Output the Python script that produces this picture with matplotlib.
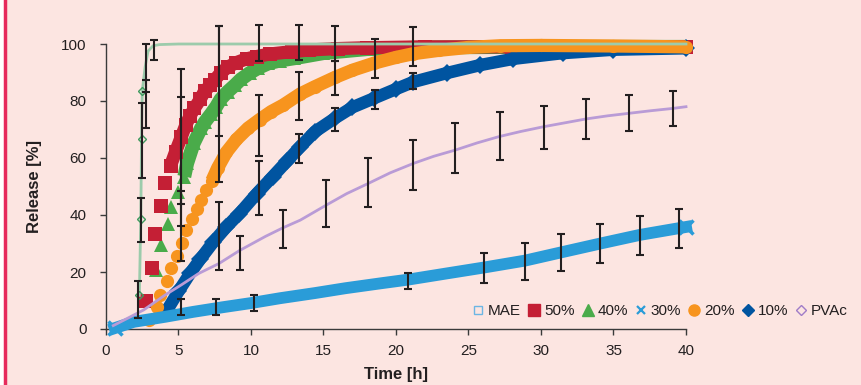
import numpy as np
import matplotlib
matplotlib.use('Agg')
import matplotlib.pyplot as plt
from matplotlib.lines import Line2D
from matplotlib.patches import Rectangle

# release curves: time [h] and release [%]
maeT = [2.3, 2.4, 2.45, 2.5, 2.7, 2.9, 3.25, 3.7, 5, 10, 20, 30, 40]
maeV = [11.8, 38.6, 66.7, 83.5, 92, 97.5, 99.4, 99.8, 100, 100, 100, 100, 100]

t50 = [2.75, 3.2, 3.4, 3.8, 4.1, 4.45, 4.8, 5.2, 5.5, 5.8, 6.1, 6.5, 6.8, 7.2, 7.5, 7.9,
       8.4, 9.0, 9.7, 10.4, 11.3, 12.8, 14.0, 16, 18, 22, 28, 34, 40]
v50 = [9.8, 21.4, 33.3, 43.2, 51.2, 57.3, 62.2, 67.5, 71.5, 74.8, 77.5, 80.6, 83.5, 85.5, 87.4, 89.8,
       91.9, 93.5, 94.8, 95.6, 96.5, 97.3, 97.9, 98.4, 98.7, 99, 99, 99, 99]

t40 = [3.45, 3.8, 4.3, 4.5, 4.95, 5.4, 5.6, 6.05, 6.55, 6.8, 7.25, 7.6, 7.9, 8.4, 8.9, 9.3,
       9.9, 10.5, 11.2, 12.0, 13.0, 15, 18, 22, 30, 40]
v40 = [20.7, 29.5, 37, 42.8, 48.2, 53.5, 58.2, 65.2, 70.4, 72.5, 75.5, 78, 80.6, 83.3, 85.6, 87.6,
       89.8, 91.6, 93.2, 94.2, 95, 96.8, 98.2, 98.8, 99, 99]

t30 = [0.6, 1.9, 4.1, 6, 8, 10, 12, 14.4, 16.5, 18.9, 20.8, 23.5, 26.1, 28.9, 31.4, 34.1, 36.8, 40]
v30 = [0.3, 2.5, 4.3, 6, 7.6, 9.1, 10.8, 12.6, 14.3, 16, 17.3, 19.5, 21.6, 24, 26.9, 30, 33, 35.8]

t20 = [3.0, 3.5, 3.75, 4.2, 4.5, 4.9, 5.25, 5.55, 5.9, 6.25, 6.55, 6.9, 7.3, 7.7, 8.3, 9.0,
       9.8, 10.6, 11.4, 12.2, 13.4, 14.4, 15.8, 17.0, 18.5, 20.0, 21.2, 23.0, 25.0, 27.2, 30, 35, 40]
v20 = [3, 7.7, 11.8, 17, 21.4, 25.6, 30.2, 34.7, 38.6, 42.2, 45.4, 48.8, 52, 56.5, 62, 66.5,
       70.5, 73.5, 76.3, 78.5, 82.5, 85, 88.3, 90.8, 93.3, 95.3, 96.6, 97.8, 98.8, 99.4, 99.5, 99.3, 99]

t10 = [4.2, 5.0, 5.8, 6.5, 7.4, 8.3, 9.2, 10.4, 11.5, 12.5, 13.4, 14.4, 15.8, 17.0, 18.5, 20.0,
       21.2, 23.5, 25.8, 28.1, 31.5, 35.0, 40.0]
v10 = [6.5, 13.2, 19.5, 24.5, 30.5, 35.8, 40.5, 47.5, 53.5, 59, 64, 69.2, 74, 77.8, 81, 84.2,
       86.7, 89.8, 92.6, 94.8, 96.8, 98, 98.5]

pvaT = [0.5, 1.5, 2.6, 4.1, 5.2, 6.4, 7.8, 9.2, 11.0, 12.2, 13.4, 15.2, 16.6, 18.1, 19.6, 21.2,
        22.6, 24.1, 25.6, 27.1, 28.6, 30.2, 31.6, 33.1, 34.6, 36.1, 37.6, 39.1, 40]
pvaV = [1.2, 3.8, 6.7, 12, 15.5, 19.5, 23, 27.5, 32.5, 35.5, 38.2, 43.5, 47.5, 51.1, 54.8, 58.1,
        60.6, 62.8, 65.3, 67.5, 69.3, 71, 72.3, 73.7, 74.8, 75.7, 76.6, 77.4, 78]

# error bars: time, lower and upper end
maeErrT = [2.2, 2.4, 2.46, 2.76, 2.76, 3.3]
maeErrLo = [3.8, 30.6, 52.9, 83.3, 70.4, 94.4]
maeErrHi = [17, 46.1, 79.4, 100, 87.4, 101.4]
errT50 = [5.15, 7.8, 10.55, 13.3, 15.8, 21.15]
errLo50 = [43.8, 67.7, 94.1, 94.4, 94, 92.4]
errHi50 = [91.2, 106.3, 106.7, 106.7, 106.4, 106]
errT40 = [5.15, 7.8]
errLo40 = [24, 51.7]
errHi40 = [81.5, 106.3]
errT30 = [5.15, 7.6, 10.2, 20.8, 26.1, 28.9, 31.4, 34.1, 36.8, 39.5]
errLo30 = [4.9, 4.9, 6.3, 14.2, 16.3, 17.2, 20.4, 23, 26, 28.3]
errHi30 = [10.5, 10.4, 11.9, 19.8, 26.5, 30.3, 33.2, 36.8, 39.8, 42.1]
errT20 = [5.15, 10.55, 13.3, 15.8, 18.55]
errLo20 = [36.1, 60.7, 73.3, 82.1, 88.2]
errHi20 = [48.5, 82.1, 90.3, 94, 101.8]
errT10 = [7.8, 10.55, 13.3, 15.8, 18.55, 21.15]
errLo10 = [20.7, 40, 58.4, 69.5, 77.2, 84.2]
errHi10 = [44.6, 59, 68.4, 77.6, 84, 90]
pvaErrT = [9.24, 12.2, 15.2, 18.1, 21.15, 24.1, 27.15, 30.2, 33.1, 36.1, 39.1]
pvaErrLo = [20.7, 28.5, 35.9, 42.9, 48.8, 54.6, 59.3, 63.2, 66.7, 69.5, 71.2]
pvaErrHi = [32.7, 41.8, 52.3, 60.1, 66.3, 72.4, 76.3, 78.2, 80.7, 82.1, 83.6]

PINK = '#fce5e1'
INK = '#231f20'
RED = '#c41f35'
GREEN = '#4aab4a'
LBLUE = '#2a9cd8'
ORANGE = '#f7941e'
DBLUE = '#0054a0'
PURPLE = '#b99bd6'
MAEGREEN = '#9ccbab'


def plotBand(ax, t, v, start, marker, color, size, z):
    # markers overlap into a solid band once the curve gets dense
    i = t.index(start)
    ax.plot(t[i:], v[i:], '-', color=color, lw=size, solid_capstyle='butt', zorder=z, clip_on=False)
    ax.plot(t, v, marker, color=color, ms=size, mew=0, ls='none', zorder=z, clip_on=False)


def plotErr(ax, t, lo, hi):
    lo = np.array(lo)
    hi = np.array(hi)
    c = ax.errorbar(t, (lo + hi) / 2, yerr=(hi - lo) / 2, fmt='none', ecolor=INK,
                    elinewidth=1.5, capsize=2.6, capthick=1.5, zorder=10)
    for a in c.lines[1] + c.lines[2]:
        a.set_clip_on(False)


plt.rcParams['font.family'] = ['Liberation Sans', 'DejaVu Sans']
fig = plt.figure(figsize=(8.62, 3.85), dpi=100, facecolor='white')
fig.patches.append(Rectangle((5.5 / 862, -0.2), 1.2, 1.2 + 1 - 8.5 / 385, transform=fig.transFigure,
                             facecolor=PINK, edgecolor='#e62a5c', lw=2.5, zorder=-5))
ax = fig.add_axes([106 / 862, 1 - 329 / 385, 580 / 862, 285 / 385])
ax.set_facecolor('none')

# drawing order: green under red, red under blue, blue under orange, light blue x on top
plotBand(ax, t40, v40, 5.4, '^', GREEN, 10, 3)
plotBand(ax, t50, v50, 4.45, 's', RED, 9.5, 4)
plotBand(ax, t10, v10, 4.2, 'D', DBLUE, 9, 5)
plotBand(ax, t20, v20, 7.3, 'o', ORANGE, 9.5, 6)
ax.plot(t30, v30, '-', color=LBLUE, lw=8.5, zorder=7, clip_on=False)
ax.plot([t30[0], t30[-1]], [v30[0], v30[-1]], 'x', color=LBLUE, ms=10, mew=2.5, zorder=7, clip_on=False)

# MAE: thin pale line, only the first points show as open diamonds
ax.plot(maeT, maeV, '-', color=MAEGREEN, lw=2, zorder=8, clip_on=False)
ax.plot(maeT[:4], maeV[:4], 'D', mfc='none', mec='#3f9a5e', ms=4.5, mew=1, zorder=8)
ax.plot(pvaT, pvaV, '-', color=PURPLE, lw=2, zorder=8, clip_on=False)

plotErr(ax, maeErrT, maeErrLo, maeErrHi)
plotErr(ax, errT50, errLo50, errHi50)
plotErr(ax, errT40, errLo40, errHi40)
plotErr(ax, errT30, errLo30, errHi30)
plotErr(ax, errT20, errLo20, errHi20)
plotErr(ax, errT10, errLo10, errHi10)
plotErr(ax, pvaErrT, pvaErrLo, pvaErrHi)

ax.set_xlim(0, 40)
ax.set_ylim(0, 100)
ax.set_xticks(range(0, 41, 5))
ax.set_yticks(range(0, 101, 20))
for s in ['top', 'right']:
    ax.spines[s].set_visible(False)
for s in ['left', 'bottom']:
    ax.spines[s].set_color('#3a3a3a')
    ax.spines[s].set_linewidth(1)
ax.tick_params(axis='y', length=4, width=1, color='#3a3a3a', labelsize=11, labelcolor=INK, pad=10)
ax.tick_params(axis='x', length=4, width=1, color='#3a3a3a', labelsize=11, labelcolor=INK, pad=7)
ax.set_xlabel('Time [h]', fontsize=12, fontweight='bold', color=INK, labelpad=6)
ax.set_ylabel('Release [%]', fontsize=12, fontweight='bold', color=INK, labelpad=14)

handles = [
    Line2D([], [], ls='none', marker='s', mfc='none', mec='#6cb6e4', ms=6, mew=1),
    Line2D([], [], ls='none', marker='s', color=RED, ms=8),
    Line2D([], [], ls='none', marker='^', color=GREEN, ms=8),
    Line2D([], [], ls='none', marker='x', color=LBLUE, ms=6, mew=1.6),
    Line2D([], [], ls='none', marker='o', color=ORANGE, ms=8),
    Line2D([], [], ls='none', marker='D', color=DBLUE, ms=6),
    Line2D([], [], ls='none', marker='D', mfc='none', mec='#a07cc8', ms=5, mew=1),
]
fig.legend(handles, ['MAE', '50%', '40%', '30%', '20%', '10%', 'PVAc'], loc='center right',
           bbox_to_anchor=(848 / 862, 1 - 311 / 385), ncol=7, frameon=False, fontsize=11,
           handlelength=0.7, handletextpad=0.3, columnspacing=0.5, labelcolor=INK,
           borderpad=0, borderaxespad=0)

plt.savefig('out.png', dpi=100, facecolor=fig.get_facecolor())
